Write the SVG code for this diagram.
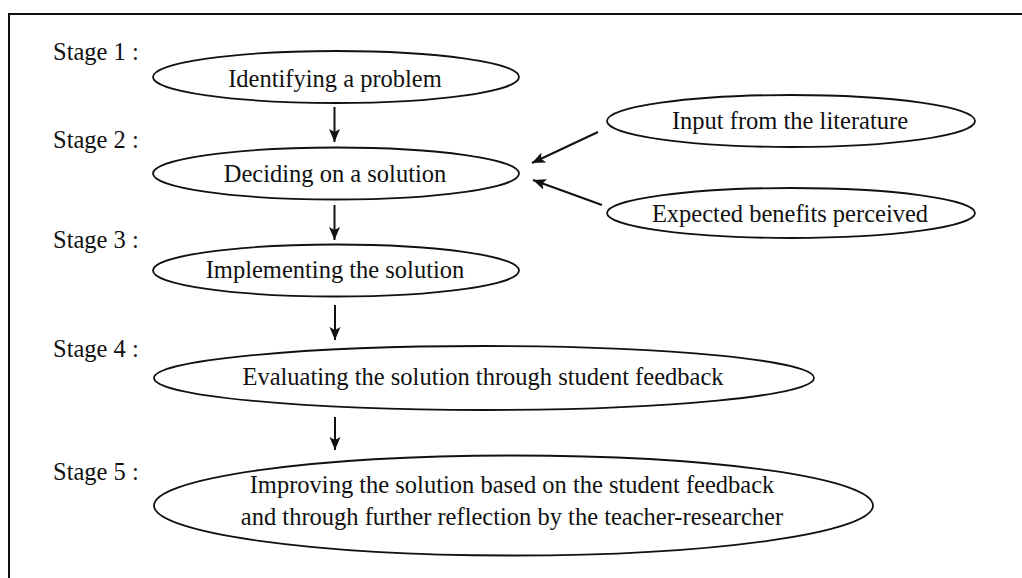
<svg xmlns="http://www.w3.org/2000/svg" width="1022" height="578" viewBox="0 0 1022 578">
<style>
text{font-family:'Liberation Serif','DejaVu Serif',serif;font-size:24.5px;fill:#111}
.m{text-anchor:middle}
.e{fill:#fff;stroke:#111;stroke-width:1.8}
.c{stroke:#111;stroke-width:2;fill:none}
</style>
<defs>
<marker id="ah" markerUnits="userSpaceOnUse" markerWidth="14" markerHeight="12" refX="13" refY="5.5" orient="auto">
<path d="M0,0 L13,5.5 L0,11 L3,5.5 z" fill="#111"/>
</marker>
</defs>
<rect width="1022" height="578" fill="#fff"/>
<path d="M9,578 V14 H1022" fill="none" stroke="#111" stroke-width="2"/>
<g id="labels" font-family="Liberation Serif, serif">
<text x="53" y="60">Stage 1 :</text>
<text x="53" y="148">Stage 2 :</text>
<text x="53" y="248">Stage 3 :</text>
<text x="53" y="357">Stage 4 :</text>
<text x="53" y="480">Stage 5 :</text>
</g>
<g id="n1"><ellipse class="e" cx="336" cy="77" rx="183" ry="26"/><text class="m" x="335" y="87">Identifying a problem</text></g>
<g id="n2"><ellipse class="e" cx="336" cy="173.5" rx="183" ry="26"/><text class="m" x="335" y="182">Deciding on a solution</text></g>
<g id="n3"><ellipse class="e" cx="336" cy="270.5" rx="183" ry="26"/><text class="m" x="335" y="278">Implementing the solution</text></g>
<g id="n4"><ellipse class="e" cx="484" cy="378" rx="330" ry="32"/><text class="m" x="483" y="385">Evaluating the solution through student feedback</text></g>
<g id="n5"><ellipse class="e" cx="513.5" cy="505.5" rx="359.5" ry="50"/><text class="m" x="512" y="493">Improving the solution based on the student feedback</text><text class="m" x="512" y="525">and through further reflection by the teacher-researcher</text></g>
<g id="n6"><ellipse class="e" cx="791" cy="121" rx="184" ry="26"/><text class="m" x="790" y="129">Input from the literature</text></g>
<g id="n7"><ellipse class="e" cx="791" cy="213" rx="184" ry="25"/><text class="m" x="790" y="222">Expected benefits perceived</text></g>
<g id="connectors">
<line class="c" x1="334.5" y1="107" x2="334.5" y2="142" marker-end="url(#ah)"/>
<line class="c" x1="334.5" y1="205" x2="334.5" y2="240" marker-end="url(#ah)"/>
<line class="c" x1="335" y1="305" x2="335" y2="340" marker-end="url(#ah)"/>
<line class="c" x1="335" y1="417" x2="335" y2="450" marker-end="url(#ah)"/>
<line class="c" x1="598" y1="132" x2="532" y2="163" marker-end="url(#ah)"/>
<line class="c" x1="602" y1="205" x2="533" y2="180" marker-end="url(#ah)"/>
</g>
</svg>
